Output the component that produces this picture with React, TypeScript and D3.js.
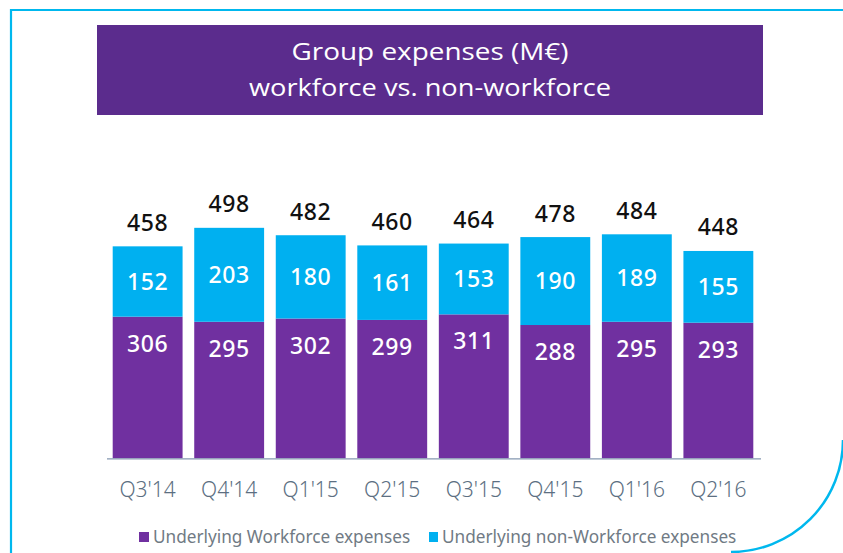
import React from 'react';
import * as d3 from 'd3';

const width = 843;
const height = 553;

const quarters = ["Q3'14", "Q4'14", "Q1'15", "Q2'15", "Q3'15", "Q4'15", "Q1'16", "Q2'16"];
const workforce = [306, 295, 302, 299, 311, 288, 295, 293];
const nonWorkforce = [152, 203, 180, 161, 153, 190, 189, 155];
const totals = [458, 498, 482, 460, 464, 478, 484, 448];
const legendLabels = ['Underlying Workforce expenses', 'Underlying non-Workforce expenses'];

const purple = '#7030a0';
const cyan = '#00b0f0';
const numFont = "'Noto Sans', sans-serif";

export default function App() {
  const rows = quarters.map((q, i) => ({ q, wf: workforce[i], nwf: nonWorkforce[i] }));
  const series = d3.stack<any>().keys(['wf', 'nwf'])(rows);

  const x = d3.scaleBand().domain(quarters).range([112.7, 753.3]).paddingInner(0.143).paddingOuter(0);
  const y = d3.scaleLinear().domain([0, 500]).range([458.3, 226.9]);
  const colors = [purple, cyan];

  return (
    <svg width={width} height={height} style={{ position: 'absolute', left: 0, top: 0, background: '#fff' }}>
      {/* frame */}
      <path d={`M11,553 L11,10 L843,10`} fill="none" stroke="#00b8ee" strokeWidth={2.2} />
      <path d={`M843,440 A112,112 0 0 1 731,552`} fill="none" stroke="#00b8ee" strokeWidth={2.5} />

      {/* title box */}
      <rect x={97} y={25} width={666} height={90} fill="#5b2c8d" />
      <text x={430} y={60} textAnchor="middle" fill="#fff" fontFamily="'Open Sans', sans-serif" fontSize={23}
        textLength={277} lengthAdjust="spacingAndGlyphs">Group expenses (M€)</text>
      <text x={430} y={96} textAnchor="middle" fill="#fff" fontFamily="'Open Sans', sans-serif" fontSize={23}
        textLength={362} lengthAdjust="spacingAndGlyphs">workforce vs. non-workforce</text>

      {/* bars */}
      {series.map((s, si) => (
        <g key={si} fill={colors[si]}>
          {s.map((d, i) => (
            <rect key={i} x={x(quarters[i])} y={y(d[1])} width={x.bandwidth()} height={y(d[0]) - y(d[1])} />
          ))}
        </g>
      ))}

      {/* axis line */}
      <line x1={107} x2={761} y1={458.8} y2={458.8} stroke="#8497b0" strokeWidth={1.3} />

      {/* segment labels */}
      {quarters.map((q, i) => {
        const cx = (x(q) as number) + x.bandwidth() / 2;
        return (
          <g key={q} fontFamily={numFont} fontSize={23} fontWeight={500} textAnchor="middle" letterSpacing={0.6}>
            <text x={cx} y={y(workforce[i]) + 35} fill="#fff">{workforce[i]}</text>
            <text x={cx} y={(y(workforce[i]) + y(totals[i])) / 2 + 8} fill="#fff">{nonWorkforce[i]}</text>
            <text x={cx} y={y(totals[i]) - 15.5} fill="#111">{totals[i]}</text>
            <text x={cx} y={497} fill="#5c6f82" fontSize={21} fontWeight={300} letterSpacing={0}
              fontFamily="'Noto Sans', sans-serif">{q}</text>
          </g>
        );
      })}

      {/* legend */}
      <g fontFamily="'Noto Sans', sans-serif" fontSize={17.2} fill="#707a84">
        <rect x={139} y={532} width={10} height={10} fill={purple} />
        <text x={153} y={543}>{legendLabels[0]}</text>
        <rect x={429} y={532} width={9} height={10} fill={cyan} />
        <text x={442} y={543}>{legendLabels[1]}</text>
      </g>
    </svg>
  );
}
